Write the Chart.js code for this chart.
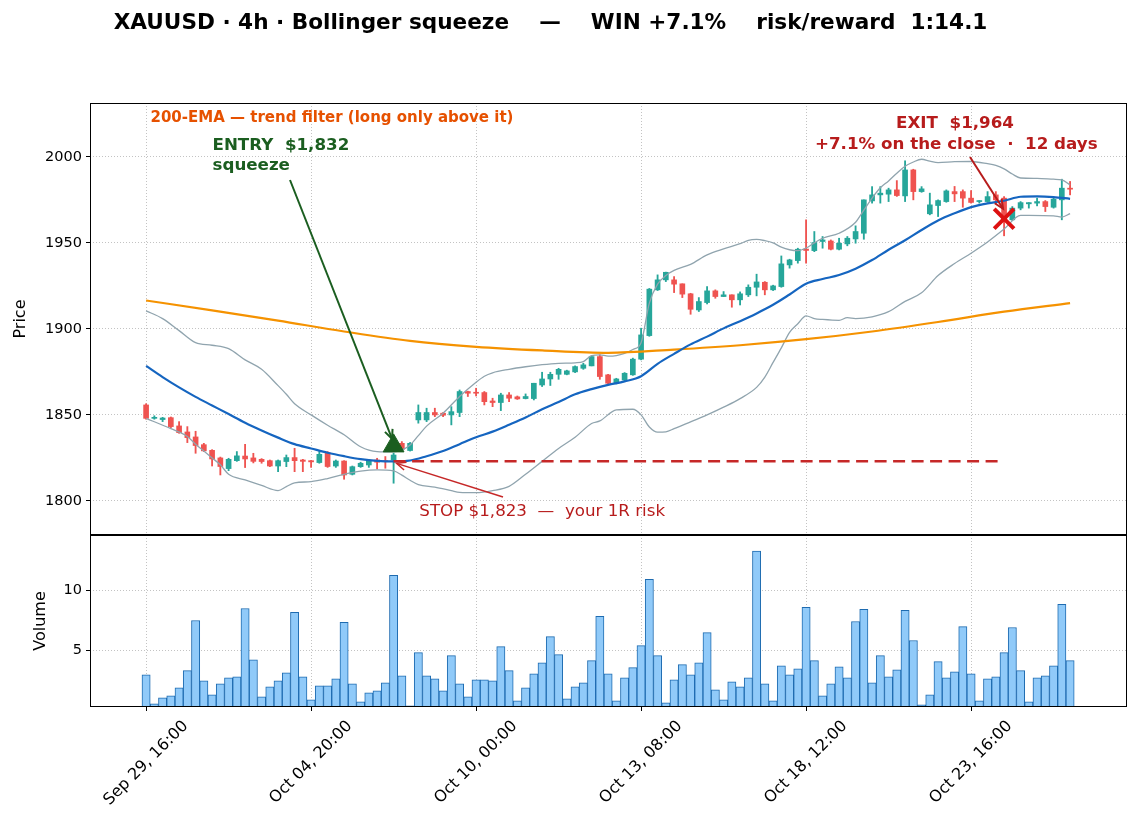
<!DOCTYPE html>
<html>
<head>
<meta charset="utf-8">
<script src="https://cdn.jsdelivr.net/npm/chart.js@4/dist/chart.umd.min.js"></script>
<style>
  body { margin: 0; background: #fff; }
  #wrap { position: relative; width: 1139px; height: 826px; }
  #priceBox { position: absolute; left: 0; top: 0; width: 1139px; height: 536px; }
  #volBox { position: absolute; left: 0; top: 535px; width: 1139px; height: 291px; }
</style>
</head>
<body>
<div id="wrap">
  <div id="priceBox"><canvas id="priceChart"></canvas></div>
  <div id="volBox"><canvas id="volChart"></canvas></div>
</div>
<script>
// x axis: bar index, labelled every 20 bars
const tickIdx = [0, 20, 40, 60, 80, 100];
const tickLabels = ['Sep 29, 16:00', 'Oct 04, 20:00', 'Oct 10, 00:00', 'Oct 13, 08:00', 'Oct 18, 12:00', 'Oct 23, 16:00'];
const priceTicks = [1800, 1850, 1900, 1950, 2000];
const volTicks = [5, 10];

// 4h candles
const opens = [1855.8,1848.0,1847.3,1848.4,1843.6,1840.1,1837.2,1832.7,1829.4,1825.0,
1818.8,1823.4,1826.1,1825.0,1824.2,1823.4,1820.3,1822.9,1825.2,1823.8,
1823.4,1822.3,1828.1,1820.3,1823.2,1815.5,1819.9,1820.9,1823.8,1823.4,
1823.8,1833.5,1829.3,1847.1,1847.1,1851.4,1851.0,1850.0,1851.4,1863.6,
1863.0,1863.0,1858.1,1857.2,1861.6,1860.5,1859.5,1859.5,1867.4,1870.9,
1873.6,1873.6,1875.0,1877.1,1878.5,1883.9,1873.3,1868.4,1870.3,1873.3,
1882.4,1896.1,1922.7,1928.5,1928.5,1926.2,1920.4,1911.0,1915.3,1922.1,
1918.8,1919.8,1916.9,1919.8,1924.2,1927.1,1922.7,1924.6,1937.2,1939.7,
1946.4,1945.5,1950.8,1951.1,1946.3,1949.4,1952.3,1955.6,1974.4,1977.9,
1978.3,1980.8,1977.3,1992.4,1979.8,1966.9,1971.7,1974.0,1979.8,1979.8,
1976.0,1974.0,1974.0,1977.9,1976.0,1963.4,1970.2,1972.7,1973.1,1974.0,
1970.7,1975.0,1981.8];
const highs = [1856.5,1849.5,1848.6,1848.8,1846.1,1843.2,1840.5,1833.5,1829.8,1825.5,
1824.8,1828.7,1832.9,1827.7,1824.6,1823.8,1823.8,1826.7,1830.6,1824.2,
1823.6,1828.7,1828.7,1823.8,1823.4,1820.3,1822.5,1823.8,1824.8,1825.8,
1827.7,1834.5,1834.0,1855.8,1853.9,1853.9,1851.4,1854.8,1864.5,1863.8,
1865.5,1863.6,1859.7,1862.6,1863.0,1861.0,1862.2,1868.4,1874.8,1874.8,
1877.1,1876.0,1878.5,1880.0,1884.3,1884.9,1873.6,1871.3,1874.6,1883.0,
1900.4,1923.5,1931.4,1933.0,1930.4,1926.2,1920.7,1918.2,1924.6,1922.7,
1921.7,1919.8,1921.5,1925.6,1931.8,1927.5,1925.4,1942.4,1940.5,1946.9,
1963.4,1956.6,1953.7,1951.7,1952.7,1953.7,1959.9,1975.0,1982.7,1982.7,
1981.8,1986.2,1997.7,1992.8,1982.7,1978.9,1975.0,1980.8,1982.8,1980.8,
1980.4,1974.6,1979.8,1979.8,1976.9,1971.1,1974.0,1973.4,1976.0,1974.6,
1976.0,1987.0,1985.7];
const lows = [1847.5,1847.5,1846.1,1842.5,1839.3,1833.9,1827.7,1828.7,1820.3,1815.1,
1817.6,1823.0,1819.4,1822.1,1821.9,1819.9,1817.0,1819.9,1817.0,1817.0,
1819.5,1821.9,1819.5,1819.5,1812.6,1815.1,1819.5,1819.5,1818.6,1819.0,
1810.3,1829.3,1829.0,1845.2,1846.1,1849.0,1849.0,1844.2,1849.0,1860.7,
1861.0,1855.8,1854.8,1852.5,1857.7,1859.0,1859.3,1858.7,1866.5,1867.1,
1870.7,1873.3,1874.6,1876.5,1878.5,1870.7,1868.0,1868.0,1869.9,1873.0,
1882.0,1895.7,1922.3,1927.5,1921.1,1918.2,1908.5,1910.1,1914.5,1917.8,
1918.8,1912.6,1913.9,1918.8,1919.2,1919.8,1922.3,1924.2,1935.3,1938.2,
1938.2,1944.9,1946.9,1945.9,1945.9,1948.3,1949.8,1952.1,1973.1,1973.1,
1974.0,1977.0,1974.0,1975.0,1979.4,1966.3,1965.3,1973.6,1974.0,1970.7,
1973.1,1973.1,1973.6,1972.7,1954.1,1963.0,1969.2,1970.2,1971.5,1968.2,
1970.2,1963.4,1977.9];
const closes = [1848.0,1848.6,1848.2,1843.2,1839.7,1836.8,1832.2,1829.1,1824.4,1820.0,
1824.2,1826.2,1824.4,1823.0,1822.9,1820.3,1823.4,1825.2,1823.4,1823.0,
1822.7,1827.1,1820.0,1823.2,1815.1,1819.9,1821.9,1823.2,1822.5,1822.9,
1826.7,1830.0,1833.5,1851.4,1851.4,1850.0,1849.8,1851.9,1863.6,1862.6,
1862.6,1857.7,1857.2,1861.6,1859.7,1859.3,1860.7,1868.4,1870.9,1873.6,
1876.5,1875.6,1878.1,1879.1,1883.9,1872.3,1868.4,1870.9,1874.2,1882.4,
1896.5,1923.1,1928.5,1932.9,1926.0,1920.2,1911.4,1915.9,1922.1,1918.8,
1919.8,1916.9,1920.4,1924.2,1927.3,1922.7,1925.0,1937.8,1940.1,1946.3,
1945.6,1950.2,1951.7,1946.3,1949.8,1952.7,1956.6,1975.0,1977.9,1978.9,
1980.8,1977.5,1992.4,1979.8,1981.4,1972.1,1974.6,1980.2,1978.5,1976.0,
1973.5,1974.3,1976.9,1975.0,1964.0,1970.2,1973.4,1973.4,1974.0,1971.1,
1975.4,1981.8,1981.2];
const volumes = [2.97,0.56,1.06,1.22,1.89,3.31,7.47,2.47,1.31,2.22,
2.72,2.81,8.47,4.22,1.14,1.97,2.47,3.14,8.14,2.81,
0.89,2.06,2.06,2.64,7.31,2.22,0.72,1.47,1.64,2.31,
11.22,2.89,0.39,4.81,2.89,2.64,1.64,4.56,2.22,1.14,
2.56,2.56,2.47,5.31,3.31,0.81,1.89,3.06,3.97,6.14,
4.64,0.97,1.97,2.31,4.14,7.81,3.06,0.81,2.72,3.56,
5.39,10.89,4.56,0.64,2.56,3.81,2.97,3.97,6.47,1.72,
0.89,2.39,1.97,2.72,13.22,2.22,0.81,3.72,2.97,3.47,
8.56,4.14,1.22,2.22,3.64,2.72,7.39,8.39,2.31,4.56,
2.81,3.39,8.31,5.81,0.47,1.31,4.06,2.72,3.22,6.97,
3.06,0.81,2.64,2.81,4.81,6.89,3.31,0.72,2.72,2.89,
3.72,8.81,4.14];

const smaIdx = [0,2,4,6,8,10,12,14,16,18,20,22,24,26,28,30,32,34,36,38,40,42,44,46,48,50,52,54,56,58,
60,62,64,66,68,70,72,74,76,78,80,82,84,86,88,90,92,94,96,98,100,102,104,106,108,110,112];
const smaVals = [1878.5,1872,1866,1860.5,1855.5,1850.5,1845.5,1841,1836.8,1833,1830.5,1828,1826,1824.3,1823.3,
1823,1823.5,1826,1829,1833,1837,1840.3,1844.3,1848.5,1853.3,1857.5,1862,1865,1867.5,1869.5,
1872.5,1879.7,1885.5,1891,1895.5,1900.3,1904.5,1909,1914,1920,1926.3,1929,1931.3,1935,1940,
1946,1951.5,1957.5,1963,1967.2,1970.8,1973,1974.5,1976.8,1977,1976.6,1975.6];
const emaIdx = [0,8,16,24,32,40,48,56,64,72,80,88,96,104,112];
const emaVals = [1916.5,1910.8,1904.8,1898.5,1893,1889.6,1887.5,1886.1,1888,1890.5,1894,1898.5,1904,1910,1915];
const upperIdx = [0,2,4,6,8,10,12,14,16,17,18,20,22,24,26,28,30,31,32,33,34,36,38,40,41,42,44,46,48,50,
52,53,54,55,56,57,58,59,60,61,62,63,64,66,68,70,72,73,74,75,76,77,78,79,80,81,82,84,86,87,
88,89,90,91,92,93,94,95,96,98,100,102,103,104,105,106,108,110,111,112];
const upperVals = [1910.5,1906,1899,1892,1890.5,1888.5,1882,1876.5,1867,1862,1856.5,1850,1844,1838.5,1831.5,1828.7,1828.5,1829.5,1832.5,1838,
1843.5,1851,1860.7,1869,1872.5,1874.5,1876.5,1878,1879.2,1880,1880.3,1881,1884.5,1884.9,1884.2,1884.5,1885.8,1888,1892,1915,
1926,1931,1934,1937.5,1943,1946.5,1949.5,1951.5,1952,1951.3,1950,1947.5,1946,1945.5,1947,1950,1952.7,1955.6,1962,1969,
1976,1982,1986,1990.5,1994.5,1997,1998.6,1997.5,1996.7,1997.2,1997.3,1996,1995,1993,1990,1987.7,1987.5,1987,1986.6,1983.7];
const lowerIdx = [0,3,5,6,7,8,9,10,12,14,16,17,18,20,22,24,26,28,30,31,32,33,35,37,38,40,42,44,46,48,
50,52,54,55,57,59,60,61,62,63,64,66,68,70,72,74,75,76,77,78,79,80,81,82,84,85,86,88,90,92,
94,96,98,100,102,104,106,107,110,111,112];
const lowerVals = [1848,1842,1837.5,1833,1829,1825,1821,1815.5,1812.2,1809,1806,1808.3,1810.5,1811.2,1813,1815.5,1817.3,1818,1817.5,1815,
1812,1809.5,1808,1806,1805,1804.8,1806,1808.5,1815.5,1823,1830.5,1837,1845,1846.5,1852.9,1853.3,1850,1843,1840,1840.2,
1842,1846,1850,1854.5,1859.5,1866,1872,1880.5,1889,1898,1903,1907.6,1906,1905.5,1905,1906.5,1906,1907,1910,1916,
1921,1931,1938,1944,1950.5,1958,1966,1966,1965.7,1965,1967];

// trade
const entryIdx = 30, entryPrice = 1832;
const exitIdx = 104, exitPrice = 1964;
const stopPrice = 1823;

const UP = '#26a69a', DOWN = '#ef5350';
const GRID = '#b4b4b4';
const FONT = '"DejaVu Sans", sans-serif';

Chart.defaults.font.family = FONT;
Chart.defaults.font.size = 14;
Chart.defaults.color = '#000';

const pts = (idx, vals) => idx.map((x, k) => ({ x: x, y: vals[k] }));
const candleColors = opens.map((o, i) => closes[i] >= o ? UP : DOWN);

function fixedY(width) {
  return function (s) {
    s.width = width;
    s.paddingTop = 0; s.paddingBottom = 0;
  };
}

function gridOpts(drawTicks) {
  return { color: GRID, lineWidth: 0.8, offset: false, drawTicks: drawTicks, tickLength: 4,
           tickColor: '#000', tickWidth: 1, tickBorderDash: [] };
}

function arrow(ctx, x1, y1, x2, y2, color, lw) {
  ctx.save();
  ctx.strokeStyle = color;
  ctx.lineWidth = lw;
  ctx.beginPath();
  ctx.moveTo(x1, y1);
  ctx.lineTo(x2, y2);
  ctx.stroke();
  const a = Math.atan2(y2 - y1, x2 - x1), L = 10;
  ctx.beginPath();
  ctx.moveTo(x2 - L * Math.cos(a - 0.42), y2 - L * Math.sin(a - 0.42));
  ctx.lineTo(x2, y2);
  ctx.lineTo(x2 - L * Math.cos(a + 0.42), y2 - L * Math.sin(a + 0.42));
  ctx.stroke();
  ctx.restore();
}

function frame(chart) {
  const { ctx, chartArea: a } = chart;
  ctx.save();
  ctx.strokeStyle = '#000';
  ctx.lineWidth = 1;
  ctx.strokeRect(Math.round(a.left) + 0.5, Math.round(a.top) + 0.5, Math.round(a.right - a.left) - 1, Math.round(a.bottom - a.top) - 1);
  ctx.restore();
}

function yTitle(ctx, text, x, y) {
  ctx.save();
  ctx.translate(x, y);
  ctx.rotate(-Math.PI / 2);
  ctx.font = '16px ' + FONT;
  ctx.fillStyle = '#000';
  ctx.textAlign = 'center';
  ctx.textBaseline = 'middle';
  ctx.fillText(text, 0, 0);
  ctx.restore();
}

const priceDecor = {
  id: 'priceDecor',
  afterDraw(chart) {
    const { ctx, scales: { x, y } } = chart;
    frame(chart);
    ctx.save();
    ctx.fillStyle = '#000';
    ctx.font = 'bold 21.6px ' + FONT;
    ctx.textAlign = 'center';
    ctx.textBaseline = 'alphabetic';
    ctx.fillText('XAUUSD · 4h · Bollinger squeeze    —    WIN +7.1%    risk/reward  1:14.1', 550.5, 29);

    ctx.textAlign = 'left';
    ctx.font = 'bold 15px ' + FONT;
    ctx.fillStyle = '#e65100';
    ctx.fillText('200-EMA — trend filter (long only above it)', 150.5, 122);

    ctx.font = 'bold 16.7px ' + FONT;
    ctx.fillStyle = '#1b5e20';
    ctx.fillText('ENTRY  $1,832', 212.5, 150);
    ctx.fillText('squeeze', 212.5, 170);

    ctx.textAlign = 'center';
    ctx.fillStyle = '#b71c1c';
    ctx.fillText('EXIT  $1,964', 955, 127.5);
    ctx.fillText('+7.1% on the close  ·  12 days', 956.3, 148.5);

    ctx.textAlign = 'left';
    ctx.font = '16.7px ' + FONT;
    ctx.fillStyle = '#b71c1c';
    ctx.fillText('STOP $1,823  —  your 1R risk', 419.3, 516);
    ctx.restore();

    const ex = x.getPixelForValue(entryIdx), ey = y.getPixelForValue(entryPrice);
    arrow(ctx, 290, 180, ex - 1.5, ey - 7, '#1b5e20', 2);
    const xx = x.getPixelForValue(exitIdx), xy = y.getPixelForValue(exitPrice);
    arrow(ctx, 970, 157, xx - 1, xy - 10, '#b71c1c', 2);
    const sy = y.getPixelForValue(stopPrice);
    arrow(ctx, 503, 497, ex + 3, sy + 2, '#c62828', 1.5);

    yTitle(ctx, 'Price', 21, 319);
  }
};

const volDecor = {
  id: 'volDecor',
  afterDraw(chart) {
    const { ctx, chartArea: a, scales: { x } } = chart;
    frame(chart);
    ctx.save();
    const fs = 16;
    ctx.font = fs + 'px ' + FONT;
    ctx.fillStyle = '#000';
    ctx.textAlign = 'center';
    ctx.textBaseline = 'middle';
    tickIdx.forEach((v, k) => {
      const px = x.getPixelForValue(v);
      const w = ctx.measureText(tickLabels[k]).width;
      const side = (w + fs) * Math.SQRT1_2;
      ctx.save();
      ctx.translate(px, a.bottom + 11 + side / 2);
      ctx.rotate(-Math.PI / 4);
      ctx.fillText(tickLabels[k], 0, 0);
      ctx.restore();
    });
    ctx.restore();
    yTitle(ctx, 'Volume', 41, 86);
  }
};

const xBase = {
  type: 'linear', min: -6.8, max: 118.9, offset: false,
  afterBuildTicks: s => { s.ticks = tickIdx.map(v => ({ value: v })); },
  ticks: { display: false },
  border: { display: false, dash: [1, 2] }
};

const plainTick = v => String(v);

new Chart(document.getElementById('priceChart'), {
  type: 'bar',
  data: {
    datasets: [
      { type: 'line', data: [{ x: entryIdx, y: entryPrice }], showLine: false, pointStyle: 'triangle', pointRadius: 12,
        backgroundColor: '#1b5e20', borderColor: '#1b5e20', borderWidth: 1, order: 0 },
      { type: 'line', data: [{ x: exitIdx, y: exitPrice }], showLine: false, pointStyle: 'crossRot', pointRadius: 14,
        borderColor: '#dd1111', backgroundColor: '#dd1111', borderWidth: 4, order: 0 },
      { type: 'line', data: [{ x: entryIdx, y: stopPrice }, { x: exitIdx, y: stopPrice }], borderColor: '#c62828',
        borderWidth: 2.5, borderDash: [12, 6.5], pointRadius: 0, order: 1 },
      { type: 'line', data: pts(smaIdx, smaVals), borderColor: '#1565c0', borderWidth: 2.2, pointRadius: 0,
        cubicInterpolationMode: 'monotone', order: 2 },
      { type: 'line', data: pts(emaIdx, emaVals), borderColor: '#f59200', borderWidth: 2.2, pointRadius: 0,
        cubicInterpolationMode: 'monotone', order: 2 },
      { type: 'line', data: pts(upperIdx, upperVals), borderColor: '#90a4ae', borderWidth: 1.3, pointRadius: 0,
        cubicInterpolationMode: 'monotone', order: 3 },
      { type: 'line', data: pts(lowerIdx, lowerVals), borderColor: '#90a4ae', borderWidth: 1.3, pointRadius: 0,
        cubicInterpolationMode: 'monotone', order: 3 },
      { data: opens.map((o, i) => ({ x: i, y: [o, closes[i]] })), backgroundColor: candleColors, borderWidth: 0,
        barThickness: 5, grouped: false, minBarLength: 1, order: 4 },
      { data: opens.map((o, i) => ({ x: i, y: [lows[i], highs[i]] })), backgroundColor: candleColors, borderWidth: 0,
        barThickness: 1.2, grouped: false, order: 5 }
    ]
  },
  options: {
    responsive: true, maintainAspectRatio: false, animation: false, events: [],
    layout: { autoPadding: false, padding: { left: 0, right: 12, top: 103, bottom: 1 } },
    plugins: { legend: { display: false }, tooltip: { enabled: false } },
    scales: {
      x: Object.assign({}, xBase, {
        afterFit: s => { s.height = 0; s.paddingLeft = 0; s.paddingRight = 0; },
        grid: gridOpts(false)
      }),
      y: {
        min: 1780.2, max: 2031.3,
        afterBuildTicks: s => { s.ticks = priceTicks.map(v => ({ value: v })); },
        afterFit: fixedY(90),
        ticks: { padding: 4, font: { size: 14.5 }, color: '#000', callback: plainTick },
        grid: gridOpts(true),
        border: { display: false, dash: [1, 2] }
      }
    }
  },
  plugins: [priceDecor]
});

new Chart(document.getElementById('volChart'), {
  type: 'bar',
  data: {
    datasets: [
      { data: volumes.map((v, i) => ({ x: i, y: v })), backgroundColor: '#90caf9', borderColor: '#1e6bb0',
        borderWidth: 1, barPercentage: 1, categoryPercentage: 1 }
    ]
  },
  options: {
    responsive: true, maintainAspectRatio: false, animation: false, events: [],
    layout: { autoPadding: false, padding: { left: 0, right: 12, top: 0, bottom: 0 } },
    plugins: { legend: { display: false }, tooltip: { enabled: false } },
    scales: {
      x: Object.assign({}, xBase, {
        afterFit: s => { s.height = 119; s.paddingLeft = 0; s.paddingRight = 0; },
        grid: gridOpts(true)
      }),
      y: {
        min: 0.3, max: 14.56,
        afterBuildTicks: s => { s.ticks = volTicks.map(v => ({ value: v })); },
        afterFit: fixedY(90),
        ticks: { padding: 4, font: { size: 14.5 }, color: '#000', callback: plainTick },
        grid: gridOpts(true),
        border: { display: false, dash: [1, 2] }
      }
    }
  },
  plugins: [volDecor]
});
</script>
</body>
</html>
